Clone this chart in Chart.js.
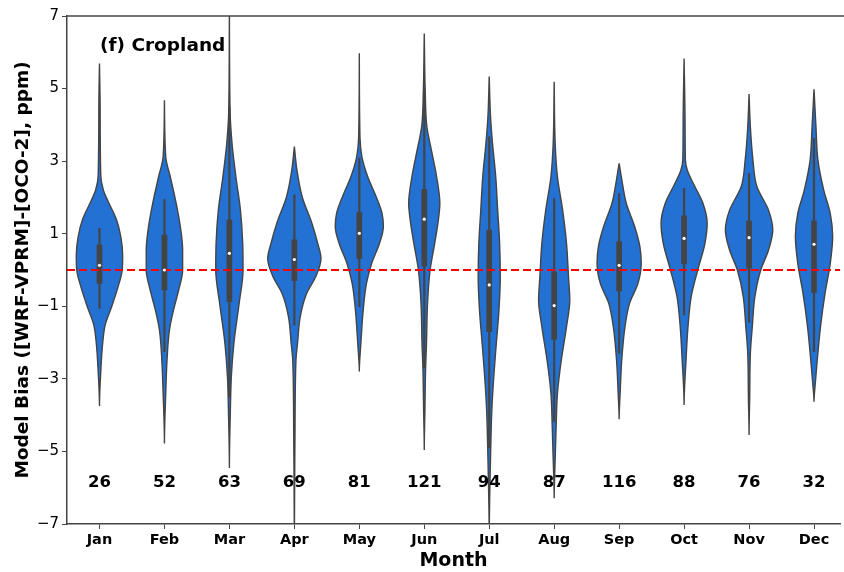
<!DOCTYPE html>
<html>
<head>
<meta charset="utf-8">
<script src="https://cdn.jsdelivr.net/npm/chart.js@4.4.1/dist/chart.umd.min.js"></script>
<style>
    body { margin: 0; background: #fff; }
    #wrap { width: 844px; height: 572px; }
</style>
</head>
<body>
<div id="wrap"><canvas id="violinChart" width="844" height="572"></canvas></div>
<script>
const months = ["Jan", "Feb", "Mar", "Apr", "May", "Jun", "Jul", "Aug", "Sep", "Oct", "Nov", "Dec"];
const counts = [26, 52, 63, 69, 81, 121, 94, 87, 116, 88, 76, 32];
const medians = [0.13, 0.0, 0.46, 0.29, 1.01, 1.40, -0.41, -0.98, 0.13, 0.87, 0.89, 0.71];
const q1s = [-0.37, -0.55, -0.87, -0.29, 0.32, 0.11, -1.70, -1.91, -0.58, 0.17, 0.05, -0.62];
const q3s = [0.69, 0.96, 1.38, 0.83, 1.58, 2.22, 1.10, -0.05, 0.78, 1.49, 1.35, 1.35];
const whiskerLo = [-1.06, -2.25, -3.5, -1.52, -1.01, -2.7, -4.9, -4.18, -2.30, -1.24, -1.45, -2.25];
const whiskerHi = [1.15, 1.95, 4.5, 2.07, 3.08, 5.0, 3.67, 1.97, 2.11, 2.25, 2.66, 3.63];
const yTicks = [-7, -5, -3, -1, 1, 3, 5, 7];

// violin outlines: [value, half width in month units], top to bottom
const janShape = [[5.69, 0], [4.5, 0.01], [2.6, 0.02], [2.2, 0.06], [1.9, 0.13], [1.4, 0.26], [0.9, 0.33], [0.4, 0.357], [0, 0.35], [-0.5, 0.28], [-1.0, 0.19], [-1.5, 0.09], [-2.0, 0.05], [-2.8, 0.02], [-3.75, 0]];
const febShape = [[4.68, 0], [3.12, 0.02], [2.57, 0.09], [1.84, 0.18], [1.19, 0.245], [0.55, 0.28], [0, 0.28], [-0.55, 0.22], [-1.1, 0.14], [-1.65, 0.077], [-2.48, 0.04], [-3.4, 0.02], [-4.78, 0]];
const marShape = [[7.4, 0], [4.4, 0.01], [3.5, 0.04], [2.57, 0.1], [1.65, 0.17], [0.73, 0.205], [0, 0.21], [-0.92, 0.15], [-2.0, 0.07], [-2.94, 0.03], [-3.86, 0.015], [-5.46, 0]];
const aprShape = [[3.4, 0], [2.75, 0.04], [2.02, 0.12], [1.29, 0.27], [0.73, 0.36], [0.32, 0.41], [-0.18, 0.33], [-0.64, 0.19], [-1.29, 0.09], [-2.0, 0.05], [-2.48, 0.025], [-4.5, 0.01], [-7.4, 0]];
const mayShape = [[5.97, 0], [3.67, 0.01], [3.12, 0.04], [2.57, 0.13], [2.02, 0.26], [1.56, 0.35], [1.19, 0.37], [0.73, 0.31], [0.18, 0.19], [-0.37, 0.11], [-1.1, 0.06], [-2.0, 0.025], [-2.8, 0]];
const junShape = [[6.52, 0], [4.87, 0.015], [3.95, 0.04], [3.3, 0.11], [2.57, 0.19], [1.84, 0.24], [1.29, 0.21], [0.73, 0.16], [0, 0.09], [-0.92, 0.05], [-2.0, 0.035], [-2.75, 0.02], [-3.86, 0.01], [-4.96, 0]];
const julShape = [[5.33, 0], [4.22, 0.02], [3.5, 0.05], [2.57, 0.1], [1.65, 0.13], [0.73, 0.16], [-0.18, 0.17], [-1.1, 0.15], [-2.0, 0.11], [-2.94, 0.07], [-3.86, 0.04], [-4.78, 0.025], [-6.0, 0.01], [-7.4, 0]];
const augShape = [[5.19, 0], [3.5, 0.015], [2.57, 0.05], [1.65, 0.13], [0.73, 0.19], [-0.18, 0.22], [-0.83, 0.24], [-1.56, 0.19], [-2.48, 0.11], [-3.4, 0.05], [-4.32, 0.03], [-5.23, 0.015], [-6.29, 0]];
const sepShape = [[2.94, 0], [2.39, 0.05], [1.84, 0.11], [1.19, 0.24], [0.64, 0.32], [0.18, 0.34], [-0.37, 0.29], [-0.92, 0.16], [-1.56, 0.09], [-2.48, 0.04], [-3.4, 0.015], [-4.11, 0]];
const octShape = [[5.83, 0], [4.0, 0.015], [3.03, 0.02], [2.75, 0.05], [2.39, 0.14], [1.84, 0.29], [1.29, 0.355], [0.73, 0.32], [0, 0.21], [-0.73, 0.11], [-1.56, 0.06], [-2.48, 0.03], [-3.72, 0]];
const novShape = [[4.85, 0], [3.95, 0.02], [3.03, 0.06], [2.3, 0.12], [1.65, 0.3], [1.1, 0.365], [0.55, 0.3], [0, 0.18], [-0.73, 0.09], [-1.56, 0.05], [-2.3, 0.02], [-3.5, 0.01], [-4.55, 0]];
const decShape = [[4.98, 0], [3.95, 0.03], [3.03, 0.06], [2.2, 0.15], [1.56, 0.25], [0.92, 0.287], [0.18, 0.25], [-0.64, 0.17], [-1.56, 0.1], [-2.48, 0.05], [-3.12, 0.02], [-3.63, 0]];
const shapes = [janShape, febShape, marShape, aprShape, mayShape, junShape, julShape, augShape, sepShape, octShape, novShape, decShape];

const fontFamily = "'DejaVu Sans', sans-serif";

function violinPoints(i, shape) {
    const right = shape.map(p => ({ x: i + p[1], y: p[0] }));
    const left = shape.slice(0, -1).reverse().map(p => ({ x: i - p[1], y: p[0] }));
    return right.concat(left);
}

const datasets = [];

// zero line, on top
datasets.push({
    type: 'scatter',
    showLine: true,
    data: [{ x: -0.5, y: 0 }, { x: 11.6, y: 0 }],
    borderColor: '#ff0000',
    borderWidth: 2,
    borderDash: [8, 4],
    pointRadius: 0,
    order: 1
});

datasets.push({
    type: 'scatter',
    data: medians.map((m, i) => ({ x: i, y: m })),
    pointRadius: 1.6,
    pointBackgroundColor: '#ffffff',
    pointBorderWidth: 0,
    order: 0
});

datasets.push({
    type: 'bar',
    data: months.map((m, i) => ({ x: i, y: [q1s[i], q3s[i]] })),
    backgroundColor: '#444444',
    barThickness: 5,
    grouped: false,
    order: 2
});

datasets.push({
    type: 'bar',
    data: months.map((m, i) => ({ x: i, y: [whiskerLo[i], whiskerHi[i]] })),
    backgroundColor: '#444444',
    barThickness: 1.5,
    grouped: false,
    order: 3
});

shapes.forEach((shape, i) => {
    datasets.push({
        type: 'scatter',
        indexAxis: 'y',
        showLine: true,
        data: violinPoints(i, shape),
        backgroundColor: '#2271d3',
        borderColor: '#444444',
        borderWidth: 1.4,
        cubicInterpolationMode: 'monotone',
        fill: 'shape',
        pointRadius: 0,
        order: 4
    });
});

const annotations = {
    id: 'annotations',
    afterDatasetsDraw(chart) {
        const ctx = chart.ctx;
        const x = chart.scales.x;
        const y = chart.scales.y;
        const area = chart.chartArea;
        ctx.save();
        ctx.fillStyle = '#000';
        ctx.font = "bold 16.5px " + fontFamily;
        ctx.textAlign = 'center';
        ctx.textBaseline = 'middle';
        counts.forEach((c, i) => {
            ctx.fillText(String(c), x.getPixelForValue(i), y.getPixelForValue(-5.85));
        });
        ctx.font = "bold 18.5px " + fontFamily;
        ctx.textAlign = 'left';
        ctx.fillText("(f) Cropland", area.left + 33, area.top + 30);
        ctx.strokeStyle = '#444444';
        ctx.lineWidth = 1.5;
        ctx.beginPath();
        ctx.moveTo(area.left, area.top);
        ctx.lineTo(chart.width, area.top);
        ctx.stroke();
        ctx.restore();
    }
};

new Chart(document.getElementById('violinChart'), {
    type: 'scatter',
    data: { datasets: datasets },
    options: {
        responsive: false,
        animation: false,
        events: [],
        layout: { padding: { top: 16, right: 0, left: 0, bottom: 0 } },
        plugins: {
            legend: { display: false },
            tooltip: { enabled: false }
        },
        scales: {
            x: {
                type: 'linear',
                offset: false,
                min: -0.5,
                max: 11.4,
                afterBuildTicks: scale => {
                    scale.ticks = months.map((m, i) => ({ value: i }));
                },
                afterFit: scale => { scale.height = 48; },
                ticks: {
                    callback: (v) => months[v],
                    color: '#000',
                    font: { family: fontFamily, size: 14.5, weight: 'bold' },
                    padding: 3,
                    maxRotation: 0,
                    autoSkip: false
                },
                grid: { offset: false, drawOnChartArea: false, drawTicks: true, tickLength: 5, color: '#444444' },
                border: { display: true, color: '#444444', width: 1.5 },
                title: {
                    display: true,
                    text: 'Month',
                    color: '#000',
                    font: { family: fontFamily, size: 19, weight: 'bold' },
                    padding: { top: 0, bottom: 0 }
                }
            },
            y: {
                min: -7,
                max: 7,
                afterBuildTicks: scale => {
                    scale.ticks = yTicks.map(v => ({ value: v }));
                },
                afterFit: scale => { scale.width = 67; },
                ticks: {
                    callback: (v) => v < 0 ? '\u2212' + Math.abs(v) : String(v),
                    color: '#000',
                    font: { family: fontFamily, size: 15 },
                    padding: 3
                },
                grid: { drawOnChartArea: false, drawTicks: true, tickLength: 5, color: '#444444' },
                border: { display: true, color: '#444444', width: 1.5 },
                title: {
                    display: true,
                    text: 'Model Bias ([WRF-VPRM]-[OCO-2], ppm)',
                    color: '#000',
                    font: { family: fontFamily, size: 18.5, weight: 'bold' },
                    padding: { top: 12, bottom: 0 }
                }
            }
        }
    },
    plugins: [annotations]
});
</script>
</body>
</html>
